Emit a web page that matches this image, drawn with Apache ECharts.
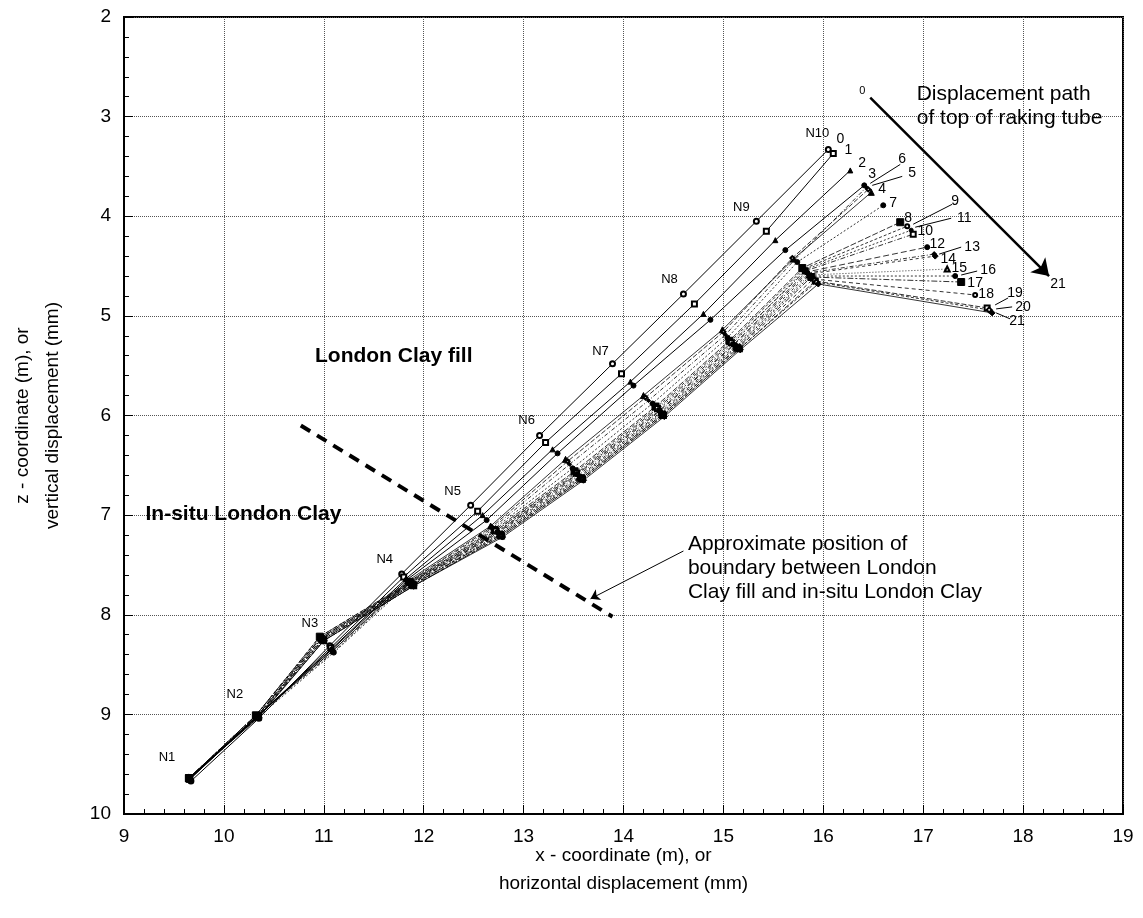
<!DOCTYPE html>
<html><head><meta charset="utf-8">
<script src="https://cdn.jsdelivr.net/npm/echarts@6/dist/echarts.min.js"></script>
<style>html,body{margin:0;padding:0;background:#fff}#c{width:1143px;height:918px}</style>
</head><body><div id="c"></div>
<script>
// ---- data ----
const nodeNames = ['N1','N2','N3','N4','N5','N6','N7','N8','N9','N10'];
const runNames = ['0','1','2','3','4','5','6','7','8','9','10','11','12','13','14','15','16','17','18','19','20','21'];

// x and z coordinates of nodes N1..N10 for each reading 0..21
const x00 = [9.67,10.35,11.06,11.78,12.47,13.16,13.89,14.60,15.33,16.05];
const z00 = [9.67,9.04,8.31,7.59,6.90,6.20,5.48,4.78,4.05,3.33];
const x01 = [9.66,10.34,11.07,11.80,12.54,13.22,13.98,14.71,15.43,16.10];
const z01 = [9.65,9.02,8.33,7.62,6.96,6.27,5.58,4.88,4.15,3.37];
const x02 = [9.66,10.33,11.08,11.82,12.59,13.29,14.07,14.80,15.52,16.27];
const z02 = [9.65,9.02,8.34,7.64,7.00,6.34,5.66,4.98,4.24,3.54];
const x03 = [9.65,10.33,11.08,11.83,12.63,13.34,14.10,14.87,15.62,16.41];
const z03 = [9.65,9.02,8.35,7.65,7.05,6.38,5.70,5.04,4.34,3.69];
const x04 = [9.65,10.33,11.09,11.84,12.67,13.42,14.20,14.99,15.70,16.48];
const z04 = [9.65,9.02,8.36,7.66,7.11,6.44,5.80,5.14,4.43,3.76];
const x05 = [9.65,10.33,11.09,11.85,12.68,13.44,14.22,15.00,15.69,16.45];
const z05 = [9.65,9.02,8.36,7.67,7.12,6.46,5.82,5.16,4.42,3.73];
const x06 = [9.65,10.33,11.10,11.85,12.69,13.46,14.25,15.02,15.71,16.43];
const z06 = [9.65,9.02,8.37,7.67,7.13,6.49,5.85,5.19,4.44,3.71];
const x07 = [9.65,10.34,11.10,11.86,12.70,13.49,14.29,15.04,15.74,16.60];
const z07 = [9.65,9.03,8.38,7.68,7.14,6.53,5.88,5.22,4.46,3.89];
const x08 = [9.65,10.32,10.96,11.86,12.71,13.51,14.32,15.06,15.79,16.77];
const z08 = [9.64,9.01,8.22,7.67,7.15,6.56,5.91,5.25,4.52,4.06];
const x09 = [9.65,10.32,10.96,11.86,12.72,13.52,14.33,15.07,15.80,16.84];
const z09 = [9.64,9.01,8.22,7.68,7.16,6.57,5.92,5.26,4.53,4.10];
const x10 = [9.65,10.32,10.97,11.87,12.72,13.53,14.34,15.08,15.82,16.90];
const z10 = [9.64,9.01,8.23,7.68,7.16,6.58,5.93,5.27,4.55,4.18];
const x11 = [9.65,10.32,10.97,11.87,12.73,13.53,14.35,15.09,15.81,16.88];
const z11 = [9.64,9.01,8.23,7.68,7.17,6.59,5.94,5.28,4.54,4.14];
const x12 = [9.65,10.33,10.97,11.87,12.74,13.54,14.36,15.10,15.83,17.04];
const z12 = [9.64,9.02,8.23,7.69,7.17,6.59,5.95,5.29,4.56,4.31];
const x13 = [9.65,10.33,10.98,11.88,12.74,13.55,14.36,15.11,15.84,17.11];
const z13 = [9.64,9.02,8.24,7.69,7.18,6.60,5.96,5.29,4.57,4.38];
const x14 = [9.65,10.33,10.98,11.88,12.75,13.56,14.37,15.12,15.85,17.12];
const z14 = [9.64,9.02,8.24,7.69,7.18,6.61,5.97,5.30,4.58,4.40];
const x15 = [9.65,10.33,10.98,11.88,12.76,13.56,14.38,15.13,15.86,17.24];
const z15 = [9.64,9.02,8.24,7.70,7.19,6.62,5.97,5.31,4.59,4.53];
const x16 = [9.65,10.33,10.99,11.89,12.76,13.57,14.38,15.13,15.87,17.32];
const z16 = [9.64,9.02,8.25,7.70,7.19,6.62,5.98,5.31,4.60,4.60];
const x17 = [9.65,10.34,10.99,11.89,12.77,13.58,14.39,15.14,15.88,17.38];
const z17 = [9.64,9.02,8.25,7.70,7.20,6.63,5.99,5.32,4.61,4.66];
const x18 = [9.65,10.34,10.99,11.89,12.77,13.58,14.39,15.15,15.90,17.52];
const z18 = [9.64,9.03,8.25,7.70,7.20,6.63,5.99,5.32,4.63,4.79];
const x19 = [9.65,10.34,11.00,11.90,12.78,13.59,14.40,15.16,15.92,17.64];
const z19 = [9.64,9.03,8.26,7.71,7.21,6.64,6.00,5.33,4.65,4.92];
const x20 = [9.65,10.34,11.00,11.90,12.78,13.59,14.40,15.16,15.93,17.66];
const z20 = [9.64,9.03,8.26,7.71,7.21,6.64,6.00,5.33,4.66,4.94];
const x21 = [9.65,10.35,11.00,11.90,12.79,13.60,14.41,15.17,15.95,17.69];
const z21 = [9.64,9.03,8.26,7.71,7.22,6.65,6.01,5.34,4.68,4.97];

const runX = [x00,x01,x02,x03,x04,x05,x06,x07,x08,x09,x10,x11,x12,x13,x14,x15,x16,x17,x18,x19,x20,x21];
const runZ = [z00,z01,z02,z03,z04,z05,z06,z07,z08,z09,z10,z11,z12,z13,z14,z15,z16,z17,z18,z19,z20,z21];

// boundary line (approx. position), and displacement path of top of raking tube
const boundaryX = [10.77, 13.89];
const boundaryZ = [6.10, 8.02];
const topPathX = [16.47, 18.26];
const topPathZ = [2.81, 4.60];

// ---- presentation ----
const FONT = "'Liberation Sans', Arial, sans-serif";
const symbols = ['emptyCircle','emptyRect','triangle','circle','triangle','emptyDiamond','diamond','circle',
  'rect','emptyCircle','emptyRect','circle','circle','diamond','diamond','emptyTriangle','circle','rect',
  'emptyCircle','emptyRect','emptyDiamond','diamond'];
const symSizes = [5,5,5,5,6,4,4,5,7,4,5,4,5,5,6,5,5,7,4,5,5,6];
const dashes = ['solid','solid','solid','solid','solid',[5,2],[4,2,1,2],[2,2],
  [6,2],[3,2],[5,2,1,2],[2,2],[6,3],[4,2,1,2],[3,3],[1,2],[2,2],[6,2,2,2],[4,3],[5,2],[3,2],'solid'];

// label anchor positions (data coords)
const runLabelPos = [[16.17,3.23],[16.25,3.34],[16.39,3.47],[16.49,3.58],[16.59,3.73],[16.89,3.57],[16.79,3.43],
  [16.70,3.87],[16.85,4.02],[17.32,3.85],[17.02,4.15],[17.41,4.02],[17.14,4.28],[17.49,4.31],[17.25,4.43],
  [17.36,4.52],[17.65,4.54],[17.52,4.67],[17.63,4.78],[17.92,4.77],[18.00,4.91],[17.94,5.05]];
const leaders = [
  [[16.47,3.67],[16.77,3.48]], [[16.49,3.69],[16.79,3.60]], [[16.90,4.08],[17.29,3.88]],
  [[16.92,4.11],[17.28,4.02]], [[17.16,4.38],[17.38,4.31]], [[17.38,4.59],[17.54,4.55]],
  [[17.72,4.89],[17.85,4.82]], [[17.73,4.93],[17.89,4.91]], [[17.73,4.97],[17.87,5.03]]];
const nodeLabelPos = [[9.43,9.43],[10.11,8.80],[10.86,8.09],[11.61,7.44],[12.29,6.76],[13.03,6.05],
  [13.77,5.36],[14.46,4.63],[15.18,3.91],[15.94,3.17]];

const series = [];
runX.forEach((xs, i) => {
  series.push({
    type: 'line', name: runNames[i],
    data: xs.map((x, k) => [x, runZ[i][k]]),
    symbol: symbols[i], symbolSize: symSizes[i], showAllSymbol: true,
    lineStyle: { color: '#000', width: i < 4 ? 1 : 0.8, type: dashes[i] },
    itemStyle: { color: '#000', borderColor: '#000', borderWidth: 1 },
    z: 3
  });
});

// boundary dashed line
series.push({
  type: 'line', data: boundaryX.map((x, k) => [x, boundaryZ[k]]), symbol: 'none',
  lineStyle: { color: '#000', width: 4, type: [11, 8] }, z: 4
});

// arrows
series.push({
  type: 'lines', coordinateSystem: 'cartesian2d', z: 5,
  data: [
    { coords: [[topPathX[0], topPathZ[0]], [topPathX[1], topPathZ[1]]],
      lineStyle: { width: 2.5, color: '#000', opacity: 1 }, symbol: ['none', 'arrow'], symbolSize: 16 },
    { coords: [[14.60, 7.36], [13.67, 7.84]],
      lineStyle: { width: 1, color: '#000', opacity: 1 }, symbol: ['none', 'arrow'], symbolSize: 9 }
  ],
  lineStyle: { opacity: 1, color: '#000' },
  symbol: ['none', 'arrow']
});

// leader lines
series.push({
  type: 'lines', coordinateSystem: 'cartesian2d', z: 5, symbol: 'none',
  lineStyle: { width: 1, color: '#000', opacity: 1 },
  data: leaders.map(c => ({ coords: c }))
});

function txt(pos, text, lab) {
  return { value: pos, label: Object.assign({ show: true, formatter: text, color: '#000', opacity: 1,
    textBorderWidth: 0, position: 'inside', fontFamily: FONT }, lab) };
}
const textData = [];
runLabelPos.forEach((p, i) => textData.push(txt(p, runNames[i], { fontSize: 14 })));
nodeLabelPos.forEach((p, i) => textData.push(txt(p, nodeNames[i], { fontSize: 13 })));
textData.push(txt([18.35, 4.68], '21', { fontSize: 14 }));
textData.push(txt([16.39, 2.74], '0', { fontSize: 11 }));
textData.push(txt([11.70, 5.40], 'London Clay fill', { fontSize: 21, fontWeight: 'bold' }));
textData.push(txt([9.22, 7.0], 'In-situ London Clay', { fontSize: 21, fontWeight: 'bold', align: 'left', position: [0, 0], verticalAlign: 'middle' }));
textData.push(txt([14.65, 7.18], 'Approximate position of\nboundary between London\nClay fill and in-situ London Clay',
  { fontSize: 21, lineHeight: 24, align: 'left', verticalAlign: 'top', position: [0, 0] }));
textData.push(txt([16.94, 2.655], 'Displacement path\nof top of raking tube',
  { fontSize: 21, lineHeight: 24, align: 'left', verticalAlign: 'top', position: [0, 0] }));

series.push({
  type: 'scatter', data: textData, symbolSize: 1, itemStyle: { color: 'rgba(0,0,0,0)', opacity: 1 }, z: 6, silent: true
});

const axisCommon = {
  type: 'value', interval: 1,
  axisLine: { show: true, lineStyle: { color: '#000', width: 2 } },
  axisTick: { show: true, inside: true, length: 9, lineStyle: { color: '#000', width: 1 } },
  minorTick: { show: true, splitNumber: 5, length: 5, lineStyle: { color: '#000', width: 1 } },
  splitLine: { show: true, lineStyle: { color: '#555', width: 1, type: [1, 1] } },
  axisLabel: { color: '#000', fontSize: 19, fontFamily: FONT },
  nameTextStyle: { color: '#000', fontSize: 19, fontFamily: FONT, lineHeight: 28 }
};

const option = {
  animation: false,
  backgroundColor: '#fff',
  grid: { left: 123, right: 20, top: 17, bottom: 104, show: true, borderColor: '#000', borderWidth: 2, backgroundColor: 'transparent' },
  xAxis: Object.assign({}, axisCommon, {
    min: 9, max: 19, name: 'x - coordinate (m), or\nhorizontal displacement (mm)',
    nameLocation: 'middle', nameGap: 28, nameMoveOverlap: false,
    axisLabel: Object.assign({}, axisCommon.axisLabel, { margin: 13 }),
    nameTextStyle: Object.assign({}, axisCommon.nameTextStyle, { verticalAlign: 'top' })
  }),
  yAxis: Object.assign({}, axisCommon, {
    min: 2, max: 10, inverse: true, name: 'z - coordinate (m), or\nvertical displacement (mm)',
    nameLocation: 'middle', nameGap: 56, nameRotate: 90, nameMoveOverlap: false,
    axisLabel: Object.assign({}, axisCommon.axisLabel, { margin: 13 }),
    nameTextStyle: Object.assign({}, axisCommon.nameTextStyle, { lineHeight: 30 })
  }),
  series: series
};

const chart = echarts.init(document.getElementById('c'), null, { renderer: 'canvas' });
chart.setOption(option);
</script>
</body></html>
